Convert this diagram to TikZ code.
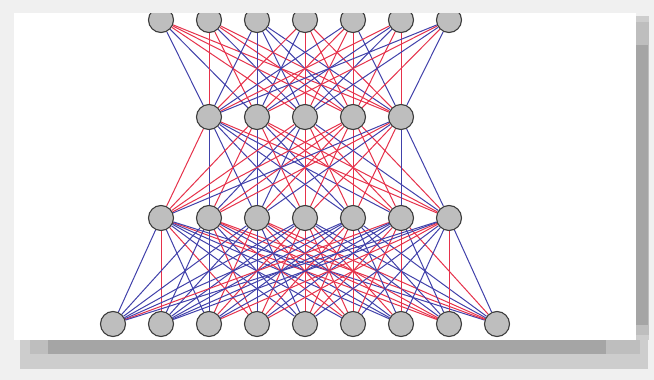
\documentclass[tikz,border=0pt]{standalone}
\pgfdeclarelayer{bgl}
\pgfdeclarelayer{edges}
\pgfdeclarelayer{fgl}
\pgfsetlayers{bgl,edges,main,fgl}
\definecolor{outer}{RGB}{240,240,240}
\definecolor{sh1}{RGB}{165,165,165}
\definecolor{sh2}{RGB}{205,205,205}
\definecolor{sh3}{RGB}{190,190,190}
\definecolor{redw}{RGB}{230,50,75}
\definecolor{bluew}{RGB}{65,65,170}
\definecolor{nfill}{RGB}{190,190,190}
\definecolor{nline}{RGB}{60,60,60}
\tikzset{
  neuron/.style={circle,draw=nline,fill=nfill,line width=1.1pt,minimum size=25pt,inner sep=0pt},
  redw/.style={draw=redw,line width=1pt},
  bluew/.style={draw=bluew,line width=1pt}
}
\begin{document}
\begin{tikzpicture}[x=1pt,y=-1pt]
\useasboundingbox (0,0) rectangle (654,380);
\begin{pgfonlayer}{bgl}
  \fill[outer] (0,0) rectangle (654,380);
  % right shadow
  \fill[sh2] (634,16) rectangle (649,340);
  \fill[sh3] (634,22) rectangle (649,335);
  \fill[sh1] (634,45) rectangle (648,325);
  % bottom shadow
  \fill[sh2] (20,340) rectangle (648,369);
  \fill[sh3] (30,340) rectangle (640,354);
  \fill[sh1] (48,340) rectangle (606,354);
  \fill[white] (14,13) rectangle (636,340);
\end{pgfonlayer}
% nodes
\foreach \i in {1,...,7} \node[neuron] (a\i) at ({113+48*\i},20) {};
\foreach \i in {1,...,5} \node[neuron] (b\i) at ({161+48*\i},117) {};
\foreach \i in {1,...,7} \node[neuron] (c\i) at ({113+48*\i},218) {};
\foreach \i in {1,...,9} \node[neuron] (d\i) at ({65+48*\i},324) {};
\pgfmathsetseed{42}
\begin{pgfonlayer}{edges}
\foreach \i in {1,...,7} \foreach \j in {1,...,5} {
  \pgfmathrandominteger{\c}{0}{1}
  \ifnum\c=1 \draw[redw] (a\i) -- (b\j); \else \draw[bluew] (a\i) -- (b\j); \fi
}
\foreach \i in {1,...,5} \foreach \j in {1,...,7} {
  \pgfmathrandominteger{\c}{0}{1}
  \ifnum\c=1 \draw[redw] (b\i) -- (c\j); \else \draw[bluew] (b\i) -- (c\j); \fi
}
\foreach \i in {1,...,7} \foreach \j in {1,...,9} {
  \pgfmathrandominteger{\c}{0}{1}
  \ifnum\c=1 \draw[redw] (c\i) -- (d\j); \else \draw[bluew] (c\i) -- (d\j); \fi
}
\end{pgfonlayer}
\begin{pgfonlayer}{fgl}
  \fill[outer] (0,0) rectangle (636,13);
\end{pgfonlayer}
\end{tikzpicture}
\end{document}
